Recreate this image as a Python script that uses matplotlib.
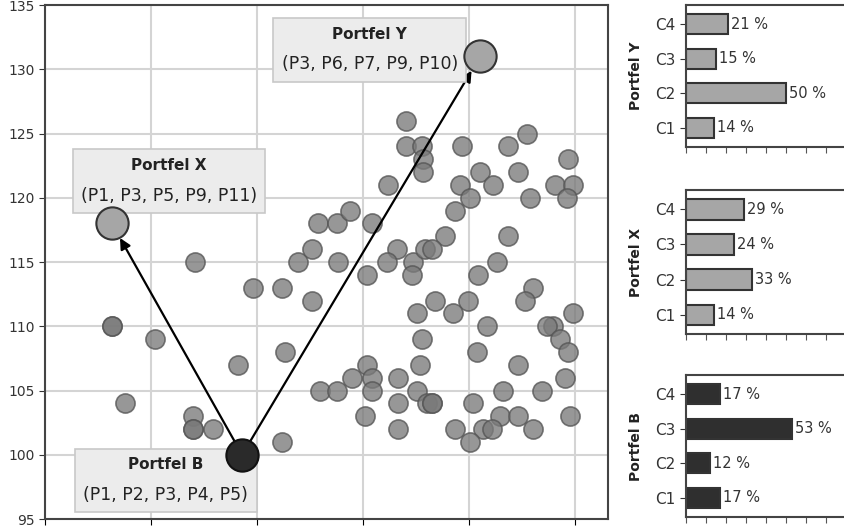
import numpy as np
import matplotlib.pyplot as plt
from matplotlib.offsetbox import TextArea, VPacker, AnnotationBbox

# chmura portfeli losowych (ryzyko, zwrot)
cloud_x = [5.26, 5.26, 6.08, 5.51, 6.79, 6.79, 6.79, 7.17, 7.64, 6.83,
           7.92, 8.47, 8.53, 8.47, 8.77, 9.04, 9.15, 9.51, 9.75, 10.17,
           9.53, 9.04, 10.08, 10.47, 10.64, 10.45, 10.94, 10.92, 11.17, 11.02,
           11.11, 10.81, 10.81, 11.11, 11.13, 11.13, 11.87, 12.74, 13.09, 13.87,
           12.21, 12.92, 11.83, 12.45, 13.62, 13.96, 13.15, 13.85, 12.02, 11.74,
           12.74, 11.55, 11.30, 12.53, 12.17, 13.20, 13.06, 11.36, 11.98, 11.70,
           12.34, 13.96, 13.58, 13.47, 13.72, 11.08, 9.19, 9.51, 9.79, 10.08,
           10.17, 10.17, 10.66, 11.02, 11.21, 10.66, 10.04, 10.66, 12.15, 12.92,
           13.87, 13.81, 12.64, 13.38, 11.30, 11.30, 12.08, 12.58, 12.92, 13.91,
           11.74, 12.26, 12.43, 13.20, 12.02]
cloud_y = [110, 110, 109, 104, 103, 102, 102, 102, 107, 115,
           113, 113, 108, 101, 115, 116, 118, 118, 119, 118,
           115, 112, 114, 121, 116, 115, 115, 114, 116, 111,
           109, 126, 124, 124, 123, 122, 124, 124, 125, 123,
           122, 122, 121, 121, 121, 121, 120, 120, 120, 119,
           117, 117, 116, 115, 114, 113, 112, 112, 112, 111,
           110, 111, 110, 110, 109, 107, 105, 105, 106, 107,
           106, 105, 106, 105, 104, 104, 103, 102, 108, 107,
           108, 106, 105, 105, 104, 104, 104, 103, 103, 103,
           102, 102, 102, 102, 101]

# portfele wyróżnione
names = ['Portfel B', 'Portfel X', 'Portfel Y']
members = ['(P1, P2, P3, P4, P5)', '(P1, P3, P5, P9, P11)', '(P3, P6, P7, P9, P10)']
port_x = [7.72, 5.26, 12.21]
port_y = [100, 118, 131]
label_x = [6.28, 6.34, 10.13]
label_y = [98.0, 121.3, 131.5]

# skład portfeli (udziały klas aktywów, %)
classes = ['C1', 'C2', 'C3', 'C4']
share_y = [14, 50, 15, 21]
share_x = [14, 33, 24, 29]
share_b = [17, 12, 53, 17]

fig = plt.figure(figsize=(8.45, 5.28), dpi=100)

ax = fig.add_axes([0.0533, 0.017, 0.666, 0.9735])
ax.set_xlim(4, 14.62)
ax.set_ylim(95, 135)
ax.set_xticks(np.arange(4, 15, 2))
ax.set_yticks(np.arange(95, 136, 5))
ax.tick_params(axis='x', labelbottom=False, length=4)
ax.tick_params(axis='y', labelsize=10, colors='#333333', length=4)
ax.grid(True, color='#d4d4d4', linewidth=1.5)
ax.set_axisbelow(True)
for s in ax.spines.values():
    s.set_color('#444444')
    s.set_linewidth(1.5)

ax.scatter(cloud_x, cloud_y, s=190, facecolor='#7a7a7a', edgecolor='#555555',
           linewidth=1.2, alpha=0.78, zorder=2)

# strzałki od portfela bazowego
for i in (1, 2):
    ax.annotate('', xy=(port_x[i], port_y[i]), xytext=(port_x[0], port_y[0]),
                arrowprops=dict(arrowstyle='-|>', color='black', lw=1.6,
                                mutation_scale=16, shrinkA=10, shrinkB=12),
                zorder=3)

# opisy portfeli: pogrubiony tytuł + lista składników w jednej ramce
for i in range(3):
    title = TextArea(names[i], textprops=dict(fontsize=11, fontweight='bold',
                                              color='#222222'))
    body = TextArea(members[i], textprops=dict(fontsize=12.5, color='#222222'))
    pack = VPacker(children=[title, body], align='center', pad=3, sep=10)
    ab = AnnotationBbox(pack, (label_x[i], label_y[i]), xycoords='data',
                        frameon=True, pad=0.75, box_alignment=(0.5, 0.5),
                        bboxprops=dict(boxstyle='square', facecolor='#ececec',
                                       edgecolor='#c8c8c8', linewidth=1.2))
    ab.set_zorder(5)
    ax.add_artist(ab)

ax.scatter(port_x[1:], port_y[1:], s=540, facecolor='#a6a6a6',
           edgecolor='#333333', linewidth=1.5, zorder=7)
ax.scatter(port_x[:1], port_y[:1], s=540, facecolor='#2a2a2a',
           edgecolor='#111111', linewidth=1.5, zorder=7)

# panele ze składem portfeli
panels = [
    ([0.812, 0.7216, 0.189, 0.269], share_y, 'Portfel Y', '#a6a6a6'),
    ([0.812, 0.3674, 0.189, 0.2727], share_x, 'Portfel X', '#a6a6a6'),
    ([0.812, 0.0208, 0.189, 0.269], share_b, 'Portfel B', '#2f2f2f'),
]
for rect, vals, ttl, col in panels:
    bx = fig.add_axes(rect)
    bars = bx.barh(classes, vals, height=0.58, color=col,
                   edgecolor='#333333', linewidth=1.5)
    for b, v in zip(bars, vals):
        bx.text(b.get_width() + 1.5, b.get_y() + b.get_height() / 2,
                f'{v} %', va='center', ha='left', fontsize=10.5,
                color='#333333')
    bx.set_xlim(0, 80)
    bx.set_ylim(-0.55, 3.55)
    bx.set_xticks(np.arange(0, 80, 10))
    bx.tick_params(axis='x', labelbottom=False, length=4, colors='#555555')
    bx.tick_params(axis='y', labelsize=11, colors='#333333', length=4)
    bx.set_ylabel(ttl, fontsize=10, fontweight='bold', color='#222222',
                  labelpad=9)
    for s in bx.spines.values():
        s.set_color('#444444')
        s.set_linewidth(1.5)

fig.savefig('out.png', dpi=100)
